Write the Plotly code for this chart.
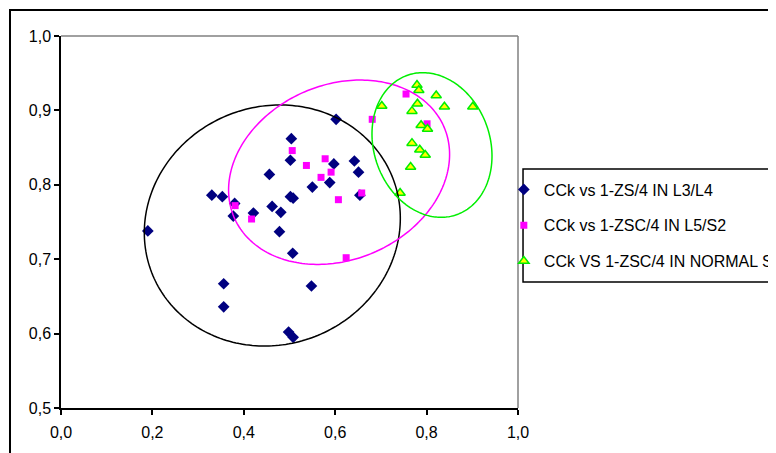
import numpy as np
import plotly.graph_objects as go

# ---- data ----
l3l4_x = [0.190, 0.330, 0.353, 0.380, 0.377, 0.356, 0.356, 0.421, 0.456, 0.462, 0.481, 0.478,
          0.502, 0.504, 0.502, 0.508, 0.507, 0.548, 0.550, 0.588, 0.597, 0.602, 0.642, 0.651,
          0.654, 0.498, 0.508]
l3l4_y = [0.738, 0.786, 0.784, 0.775, 0.758, 0.667, 0.636, 0.762, 0.814, 0.771, 0.763, 0.737,
          0.833, 0.862, 0.784, 0.782, 0.708, 0.664, 0.797, 0.803, 0.828, 0.888, 0.832, 0.817,
          0.786, 0.602, 0.595]

l5s2_x = [0.381, 0.417, 0.506, 0.537, 0.578, 0.569, 0.591, 0.607, 0.658, 0.624, 0.681, 0.755, 0.801]
l5s2_y = [0.772, 0.754, 0.846, 0.826, 0.835, 0.810, 0.817, 0.780, 0.789, 0.702, 0.888, 0.922, 0.882]

normal_x = [0.702, 0.779, 0.783, 0.821, 0.780, 0.768, 0.839, 0.901, 0.788, 0.802, 0.768, 0.785,
            0.797, 0.765, 0.742]
normal_y = [0.906, 0.934, 0.927, 0.920, 0.909, 0.899, 0.905, 0.905, 0.880, 0.875, 0.856, 0.847,
            0.840, 0.824, 0.789]

series_names = ["CCk vs 1-ZS/4 IN L3/L4", "CCk vs 1-ZSC/4 IN L5/S2", "CCk VS 1-ZSC/4 IN NORMAL SUBJECTS"]

x_ticks = [0.0, 0.2, 0.4, 0.6, 0.8, 1.0]
x_tick_labels = ["0,0", "0,2", "0,4", "0,6", "0,8", "1,0"]
y_ticks = [0.5, 0.6, 0.7, 0.8, 0.9, 1.0]
y_tick_labels = ["0,5", "0,6", "0,7", "0,8", "0,9", "1,0"]

# hand-drawn ellipses (centre, half-extents, tilt correlation), in data units
ell_cx = [0.4624, 0.6085, 0.8118]
ell_cy = [0.7453, 0.8169, 0.8535]
ell_rx = [0.2801, 0.2418, 0.1313]
ell_ry = [0.1620, 0.1239, 0.0972]
ell_rho = [0.06, 0.193, -0.152]
ell_colors = ["#000000", "#FF00FF", "#00EE00"]

FONT = "Arial, Liberation Sans, sans-serif"

fig = go.Figure()
fig.add_trace(go.Scatter(x=l3l4_x, y=l3l4_y, mode="markers", name=series_names[0],
                         legendgroup="a",
                         marker=dict(symbol="diamond", size=9, color="#000080",
                                     line=dict(width=0))))
fig.add_trace(go.Scatter(x=l5s2_x, y=l5s2_y, mode="markers", name=series_names[1],
                         legendgroup="b",
                         marker=dict(symbol="square", size=7, color="#FF00FF",
                                     line=dict(width=0))))
fig.add_trace(go.Scatter(x=normal_x, y=normal_y, mode="markers", name=series_names[2],
                         legendgroup="c",
                         marker=dict(symbol="triangle-up", size=9, color="#FFFF00",
                                     line=dict(width=1.5, color="#00EE00"))))

shapes = []
t = np.linspace(0, 2 * np.pi, 241)
for cx, cy, rx, ry, rho, col in zip(ell_cx, ell_cy, ell_rx, ell_ry, ell_rho, ell_colors):
    ex = cx + rx * np.cos(t)
    ey = cy + ry * (rho * np.cos(t) + np.sqrt(1 - rho ** 2) * np.sin(t))
    path = "M " + " L ".join(f"{a:.5f},{b:.5f}" for a, b in zip(ex, ey)) + " Z"
    shapes.append(dict(type="path", xref="x", yref="y", path=path,
                       line=dict(color=col, width=1.5), layer="above"))

# plot area top/right border (gray)
shapes.append(dict(type="line", xref="paper", yref="paper", x0=0, y0=1, x1=1, y1=1,
                   line=dict(color="#808080", width=1.5)))
shapes.append(dict(type="line", xref="paper", yref="paper", x0=1, y0=0, x1=1, y1=1,
                   line=dict(color="#808080", width=1.5)))
# outer chart frame
shapes.append(dict(type="rect", xref="paper", yref="paper", x0=-0.1116, y0=-0.4, x1=2.0, y1=1.0699,
                   line=dict(color="#000000", width=2)))
# legend box
shapes.append(dict(type="rect", xref="paper", yref="paper", x0=1.011, y0=0.3387, x1=2.0, y1=0.6425,
                   line=dict(color="#000000", width=1.5)))

fig.update_layout(
    width=776, height=453,
    margin=dict(l=53, r=266, t=28, b=53, autoexpand=False),
    paper_bgcolor="white", plot_bgcolor="white",
    font=dict(family=FONT, size=16, color="black"),
    showlegend=True,
    legend=dict(x=0.969, y=0.633, xanchor="left", yanchor="top",
                bgcolor="rgba(0,0,0,0)", borderwidth=0,
                font=dict(family=FONT, size=16, color="black"),
                tracegroupgap=12, traceorder="grouped"),
    shapes=shapes,
    xaxis=dict(range=[0, 1], tickvals=x_ticks, ticktext=x_tick_labels, showgrid=False,
               zeroline=False, showline=True, linecolor="black", linewidth=1.5,
               ticks="outside", ticklen=5, tickcolor="black", tickwidth=1.5,
               ticklabelstandoff=4),
    yaxis=dict(range=[0.5, 1], tickvals=y_ticks, ticktext=y_tick_labels, showgrid=False,
               zeroline=False, showline=True, linecolor="black", linewidth=1.5,
               ticks="outside", ticklen=5, tickcolor="black", tickwidth=1.5),
)

fig.write_html("out.html")
